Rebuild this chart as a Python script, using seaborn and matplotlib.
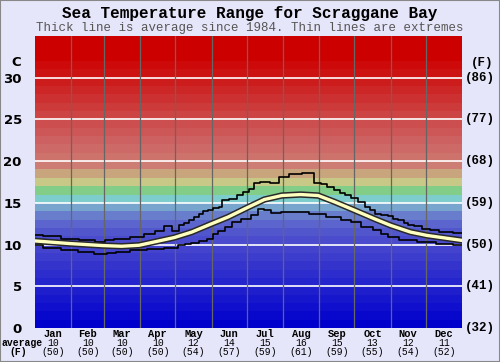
import numpy as np
import pandas as pd
import seaborn as sns
import matplotlib.pyplot as plt
from matplotlib.patches import Rectangle

# Values (day of year, deg C)
avg_days = [0, 30, 58, 74, 89, 119, 134, 150, 165, 181, 196, 211, 227, 242, 256, 273, 290, 304, 321, 335, 350, 365]
avg_temp = [10.44, 10.12, 9.88, 9.8, 9.92, 10.84, 11.5, 12.44, 13.3, 14.4, 15.4, 15.88, 16.0, 15.88, 15.12, 14.12,
            13.1, 12.3, 11.5, 11.1, 10.8, 10.5]

max_days = [0, 14, 30, 45, 58, 61, 74, 89, 98, 107, 114, 121, 125, 129, 134, 138, 142, 146, 150, 155, 159, 161,
            171, 175, 181, 185, 189, 196, 205, 212, 222, 235, 242, 247, 253, 259, 263, 267, 273, 280, 284, 289,
            293, 299, 304, 308, 313, 317, 321, 327, 335, 341, 350, 365]
max_temp = [11.12, 11.0, 10.72, 10.6, 10.32, 10.52, 10.72, 10.92, 11.24, 11.64, 12.2, 11.64, 12.32, 12.6, 12.92,
            13.32, 13.72, 14.04, 14.2, 14.4, 14.52, 15.4, 15.52, 15.92, 16.32, 16.72, 17.4, 17.52, 17.4, 18.12,
            18.52, 18.6, 17.4, 17.24, 16.92, 16.52, 16.24, 15.92, 15.64, 15.12, 14.52, 14.12, 13.72, 13.52, 13.4,
            13.12, 12.92, 12.64, 12.4, 12.2, 11.92, 11.72, 11.52, 11.4]

min_days = [0, 14, 30, 43, 58, 65, 74, 89, 102, 119, 125, 131, 136, 144, 150, 154, 159, 165, 171, 181, 188, 193,
            199, 205, 216, 227, 242, 256, 267, 273, 284, 293, 299, 304, 318, 335, 350, 365]
min_temp = [9.92, 9.64, 9.32, 9.12, 8.84, 9.0, 9.12, 9.32, 9.52, 9.64, 9.92, 10.12, 10.2, 10.44, 10.72, 11.24,
            11.64, 12.12, 12.72, 13.12, 13.52, 14.32, 14.12, 13.8, 13.92, 13.92, 13.72, 13.32, 13.0, 12.72, 12.12,
            11.72, 11.32, 10.92, 10.52, 10.32, 10.12, 9.92]

months = ['Jan', 'Feb', 'Mar', 'Apr', 'May', 'Jun', 'Jul', 'Aug', 'Sep', 'Oct', 'Nov', 'Dec']
month_avg_c = [10, 10, 10, 10, 12, 14, 15, 16, 15, 13, 12, 11]
month_avg_f = [50, 50, 50, 50, 54, 57, 59, 61, 59, 55, 54, 52]
month_start = [0, 31, 59, 90, 120, 151, 181, 212, 243, 273, 304, 334, 365]

c_ticks = [0, 5, 10, 15, 20, 25, 30]
f_ticks = ['(32)', '(41)', '(50)', '(59)', '(68)', '(77)', '(86)']

# one colour per 1 degree band, 0..35
band_rgb = [(0, 0, 205), (8, 8, 205), (15, 15, 205), (22, 22, 205), (30, 30, 205), (37, 37, 205),
            (45, 45, 205), (52, 52, 205), (60, 60, 205), (67, 67, 205), (75, 75, 205), (82, 86, 205),
            (92, 100, 205), (105, 125, 205), (120, 165, 205), (125, 205, 205), (130, 205, 135),
            (200, 200, 135), (200, 165, 125), (205, 125, 115), (205, 115, 108), (205, 105, 102),
            (205, 96, 96), (205, 87, 87), (205, 78, 78), (205, 68, 68), (205, 58, 58), (205, 48, 48),
            (205, 38, 38), (205, 28, 28), (205, 18, 18), (205, 9, 9), (205, 0, 0), (205, 0, 0), (205, 0, 0)]

bg = '#E6E6FA'
mono = 'Liberation Mono'

fig = plt.figure(figsize=(5, 3.62), dpi=100, facecolor=bg)
ax = fig.add_axes([0.07, 0.0939, 0.854, 0.8066])
ax.set_xlim(0, 365)
ax.set_ylim(0, 35)

for i, rgb in enumerate(band_rgb):
    ax.axhspan(i, i + 1, color=np.array(rgb) / 255, lw=0, zorder=0)
for t in c_ticks[1:]:
    ax.axhline(t, color='white', lw=1.2, zorder=1)
for d in month_start[1:-1]:
    ax.axvline(d, color='#666666', lw=0.9, zorder=1)

ext = dict(color='black', lw=1.2, drawstyle='steps-mid', zorder=3, legend=False)
sns.lineplot(data=pd.DataFrame({'day': max_days, 'temp': max_temp}), x='day', y='temp', ax=ax, **ext)
sns.lineplot(data=pd.DataFrame({'day': min_days, 'temp': min_temp}), x='day', y='temp', ax=ax, **ext)
avg_df = pd.DataFrame({'day': avg_days, 'temp': avg_temp})
sns.lineplot(data=avg_df, x='day', y='temp', ax=ax, color='#2a2a2a', lw=4.6, zorder=4)
sns.lineplot(data=avg_df, x='day', y='temp', ax=ax, color='#FFFFC0', lw=2.4, zorder=5)

for s in ax.spines.values():
    s.set_visible(False)
ax.set_xlabel('')
ax.set_ylabel('')
ax.set_xticks([])
ax.set_yticks(c_ticks)
ax.set_yticklabels([str(t) for t in c_ticks], fontsize=9.5, family='DejaVu Sans', fontweight='bold')
ax.tick_params(axis='y', length=0, pad=9.5)

# right-hand Fahrenheit labels
for t, lab in zip(c_ticks, f_ticks):
    ax.text(1.007, t, lab, transform=ax.get_yaxis_transform(), ha='left', va='center',
            fontsize=9, family=mono, fontweight='bold')
ax.text(-0.045, 31.8, 'C', transform=ax.get_yaxis_transform(), ha='center', va='center',
        fontsize=9.5, family='DejaVu Sans', fontweight='bold')
ax.text(1.047, 31.8, '(F)', transform=ax.get_yaxis_transform(), ha='center', va='center',
        fontsize=9, family=mono, fontweight='bold')

# month labels with averages
xt = ax.get_xaxis_transform()
for i, m in enumerate(months):
    mid = (month_start[i] + month_start[i + 1]) / 2
    ax.text(mid, -0.021, m, transform=xt, ha='center', va='center', fontsize=7.5, family=mono, fontweight='bold')
    ax.text(mid, -0.052, str(month_avg_c[i]), transform=xt, ha='center', va='center', fontsize=7, family=mono)
    ax.text(mid, -0.083, '(%d)' % month_avg_f[i], transform=xt, ha='center', va='center', fontsize=7, family=mono)
fig.text(0.045, 1 - 343 / 362, 'average', ha='center', va='center', fontsize=7, family=mono, fontweight='bold')
fig.text(0.036, 1 - 352 / 362, '(F)', ha='center', va='center', fontsize=7, family=mono, fontweight='bold')

fig.text(0.5, 1 - 13.5 / 362, 'Sea Temperature Range for Scraggane Bay', ha='center', va='center',
         fontsize=11.5, family=mono, fontweight='bold')
fig.text(0.5, 1 - 27.5 / 362, 'Thick line is average since 1984. Thin lines are extremes', ha='center',
         va='center', fontsize=9, family=mono, color='#555555')

fig.patches.append(Rectangle((0, 0), 1, 1, transform=fig.transFigure, fill=False, edgecolor='#888888', lw=1.5))

fig.savefig('out.png', dpi=100, facecolor=bg)
